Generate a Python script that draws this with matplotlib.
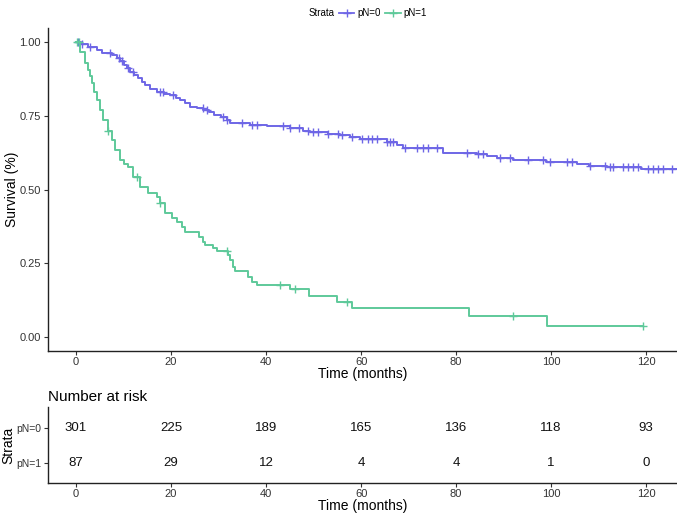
import matplotlib
matplotlib.use("Agg")
import matplotlib.pyplot as plt
from matplotlib.lines import Line2D
import numpy as np

plt.rcParams['font.family'] = ['Liberation Sans', 'DejaVu Sans']

# ---- data ----
strata = ["pN=0", "pN=1"]
colors = ["#6E66E6", "#5EC99A"]

# pN=0 Kaplan-Meier steps (time in months, survival after step)
t0 = [0, 1.0, 2.5, 4.4, 5.5, 7.5, 8.6, 9.3, 10.0, 10.7, 11.4, 12.2, 13.0, 13.8, 14.5,
      15.5, 17.0, 18.5, 19.8, 21.0, 21.9, 23.0, 24.0, 25.5, 26.8, 28.0, 29.0, 30.5,
      31.8, 32.4, 36.6, 40.2, 45.0, 47.8, 49.3, 53.0, 55.6, 57.7, 59.8, 65.5, 67.6,
      68.8, 77.3, 84.4, 86.5, 88.6, 92.0, 99.0, 105.5, 108.0, 111.8, 119.0]
s0 = [1.0, 0.993, 0.983, 0.973, 0.963, 0.957, 0.946, 0.935, 0.922, 0.911, 0.900, 0.889,
      0.877, 0.865, 0.854, 0.842, 0.831, 0.825, 0.820, 0.811, 0.803, 0.792, 0.780, 0.775,
      0.770, 0.762, 0.753, 0.745, 0.736, 0.725, 0.720, 0.715, 0.708, 0.700, 0.695, 0.688,
      0.684, 0.678, 0.671, 0.661, 0.651, 0.641, 0.624, 0.620, 0.614, 0.607, 0.600, 0.593,
      0.586, 0.580, 0.576, 0.570]
end0 = 126.5
cens0 = [0.5, 1.2, 3.0, 7.2, 9.0, 9.7, 11.0, 12.0, 17.7, 18.3, 20.4, 26.7, 27.5, 31.0,
         31.8, 35.0, 37.0, 38.0, 43.6, 45.0, 47.0, 48.8, 49.9, 51.0, 53.0, 55.2, 56.0,
         58.0, 60.2, 61.5, 62.3, 63.4, 65.5, 66.1, 66.8, 69.3, 71.8, 73.0, 74.1, 76.0,
         82.3, 84.6, 85.7, 89.3, 91.4, 95.2, 98.3, 99.8, 103.4, 104.4, 108.2, 111.4,
         112.4, 113.0, 115.2, 116.2, 117.3, 118.3, 120.4, 121.5, 122.5, 123.6, 125.5]

# pN=1 Kaplan-Meier steps
t1 = [0, 0.8, 1.9, 2.5, 3.0, 3.4, 3.7, 4.4, 5.0, 5.7, 6.7, 7.5, 8.2, 9.3, 10.2, 10.9,
      12.0, 13.5, 15.2, 17.0, 17.7, 18.7, 20.2, 21.2, 22.3, 22.9, 25.8, 26.8, 27.2,
      28.9, 29.6, 32.0, 32.4, 33.1, 33.5, 36.3, 37.0, 38.0, 45.0, 49.0, 55.0, 58.0,
      82.7, 99.2]
s1 = [1.0, 0.966, 0.93, 0.905, 0.885, 0.86, 0.83, 0.805, 0.77, 0.735, 0.70, 0.668,
      0.634, 0.60, 0.588, 0.576, 0.542, 0.508, 0.488, 0.475, 0.455, 0.42, 0.403, 0.39,
      0.373, 0.356, 0.34, 0.322, 0.312, 0.30, 0.292, 0.278, 0.261, 0.237, 0.224, 0.203,
      0.186, 0.176, 0.163, 0.139, 0.119, 0.098, 0.071, 0.037]
end1 = 119.4
cens1 = [0.2, 0.6, 6.7, 12.8, 17.7, 31.7, 43.0, 46.0, 57.0, 92.0, 119.4]

risk_times = [0, 20, 40, 60, 80, 100, 120]
risk0 = [301, 225, 189, 165, 136, 118, 93]
risk1 = [87, 29, 12, 4, 4, 1, 0]

y_ticks = [0.00, 0.25, 0.50, 0.75, 1.00]
x_ticks = [0, 20, 40, 60, 80, 100, 120]

# ---- figure ----
W, H = 677, 514
fig = plt.figure(figsize=(W / 100, H / 100), dpi=100)

def frac_box(l, r, t, b):
    return [l / W, 1 - b / H, (r - l) / W, (b - t) / H]

ax = fig.add_axes(frac_box(48, 677, 28, 351))
tax = fig.add_axes(frac_box(48, 677, 407, 483))

tick_col = "#333333"
for a in (ax, tax):
    for sp in ("top", "right"):
        a.spines[sp].set_visible(False)
    for sp in ("left", "bottom"):
        a.spines[sp].set_linewidth(1.0)
        a.spines[sp].set_color("#222222")
    a.tick_params(axis="both", direction="out", length=3, width=0.8, color="#333333",
                  labelsize=8, labelcolor=tick_col, pad=2)
    a.tick_params(axis="x", pad=1)

def draw(t, s, end, cens, col):
    tt = list(t) + [end]
    ss = list(s) + [s[-1]]
    ax.step(tt, ss, where="post", color=col, lw=1.4)
    tarr = np.array(t)
    sarr = np.array(s)
    cy = [sarr[np.searchsorted(tarr, c, side="right") - 1] for c in cens]
    ax.plot(cens, cy, ls="none", marker="+", ms=6, mew=1.0, color=col)

draw(t0, s0, end0, cens0, colors[0])
draw(t1, s1, end1, cens1, colors[1])

ax.set_xlim(-5.9, 126.5)
ax.set_ylim(-0.0475, 1.0475)
ax.set_xticks(x_ticks)
ax.set_yticks(y_ticks)
ax.set_yticklabels([f"{v:.2f}" for v in y_ticks])
ax.set_xlabel("Time (months)", fontsize=10, va="center")
ax.set_ylabel("Survival (%)", fontsize=10, va="center")
ax.xaxis.set_label_coords(0.5, (351 - 374) / 323)
ax.yaxis.set_label_coords((12 - 48) / 629, 0.5)

# risk table
tax.set_xlim(-5.9, 126.5)
tax.set_ylim(0.43, 2.6)
for x, n in zip(risk_times, risk0):
    tax.text(x, 2, str(n), ha="center", va="center", fontsize=9.5, color="#111111")
for x, n in zip(risk_times, risk1):
    tax.text(x, 1, str(n), ha="center", va="center", fontsize=9.5, color="#111111")
tax.set_yticks([2, 1])
tax.set_yticklabels(strata, fontsize=7.5)
tax.set_xticks(x_ticks)
tax.set_xlabel("Time (months)", fontsize=10, va="center")
tax.set_ylabel("Strata", fontsize=10, va="center")
tax.xaxis.set_label_coords(0.5, (483 - 506) / 76)
tax.yaxis.set_label_coords((8 - 48) / 629, 0.5)
tax.set_title("Number at risk", loc="left", fontsize=11, pad=4)

# legend
fig.text(322 / W, 1 - 13 / H, "Strata", fontsize=7, ha="center", va="center")
handles = [Line2D([0], [0], color=c, lw=1.3, marker="+", ms=6, mew=1.0) for c in colors]
fig.legend(handles, strata, loc="center", bbox_to_anchor=(383 / W, 1 - 13 / H), ncol=2,
           frameon=False, fontsize=7, handlelength=1.6, handletextpad=0.3,
           columnspacing=0.5, borderpad=0)

fig.savefig("out.png", dpi=100)
